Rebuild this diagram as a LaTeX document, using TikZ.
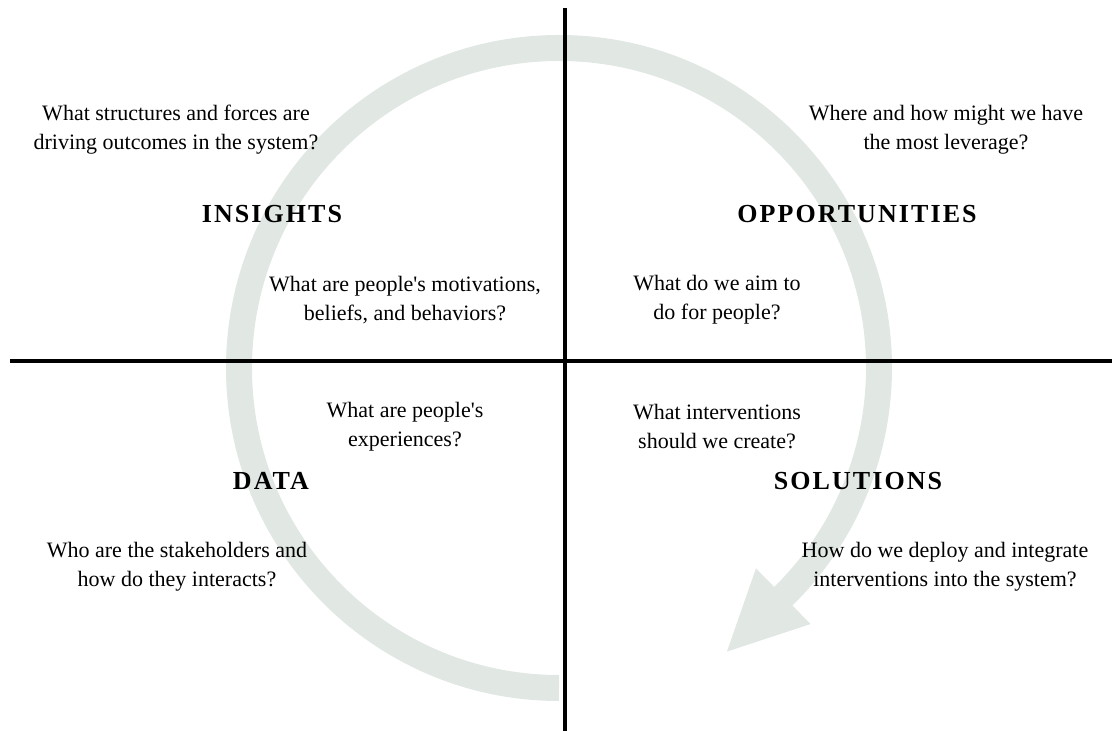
\documentclass[tikz,border=0pt]{standalone}
\usepackage{fontspec}
\setmainfont{Liberation Serif}[Ligatures=TeXOff]
\newfontfamily\headfont{Liberation Serif}[LetterSpace=8]
\usepackage{tikz}
\usetikzlibrary{calc}
\definecolor{ringgray}{RGB}{225,231,227}

\begin{document}
\begin{tikzpicture}[x=1pt, y=1pt,
    question/.style={align=center, font=\fontsize{22}{29}\selectfont, inner sep=0pt},
    heading/.style={font=\headfont\bfseries\fontsize{26}{30}\selectfont, inner sep=0pt},
    axis/.style={line width=4.5pt, black},
    ringline/.style={line width=26pt, ringgray}
  ]
  \useasboundingbox (0,0) rectangle (1112,731);

  % the cycle arrow, drawn first so everything sits on top
  \coordinate (ctr) at (559,363);
  \draw[ringline] ($(ctr)+(-90:320pt)$) arc[start angle=-90, end angle=-407, radius=320pt];
  \fill[ringgray] ($(ctr)+(-45.5:281pt)$) -- ($(ctr)+(-45.5:359pt)$)
    -- ($(ctr)+(-45.5:320pt)+(-135.5:79pt)$) -- cycle;

  % quadrant axes
  \coordinate (top) at (565,723);
  \coordinate (bottom) at (565,0);
  \coordinate (left) at (10,370);
  \coordinate (right) at (1112,370);
  \draw[axis] (top) -- (bottom);
  \draw[axis] (left) -- (right);

  % headings
  \node[heading] (insights) at (272,517) {INSIGHTS};
  \node[heading] (opps) at (857,517) {OPPORTUNITIES};
  \node[heading] (data) at (271,250) {DATA};
  \node[heading] (solutions) at (858,250) {SOLUTIONS};

  % questions
  \node[question] (q1a) at (176,601) {What structures and forces are\\driving outcomes in the system?};
  \node[question] (q1b) at (405,431) {What are people's motivations,\\beliefs, and behaviors?};
  \node[question] (q2a) at (946,601) {Where and how might we have\\the most leverage?};
  \node[question] (q2b) at (717,431) {What do we aim to\\do for people?};
  \node[question] (q3a) at (405,304) {What are people's\\experiences?};
  \node[question] (q3b) at (177,164) {Who are the stakeholders and\\how do they interacts?};
  \node[question] (q4a) at (717,304) {What interventions\\should we create?};
  \node[question] (q4b) at (945,164) {How do we deploy and integrate\\interventions into the system?};
\end{tikzpicture}
\end{document}
